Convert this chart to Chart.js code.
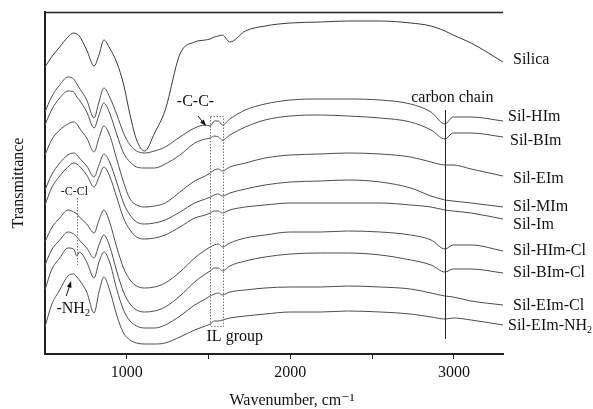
<!DOCTYPE html>
<html>
<head>
<meta charset="utf-8">
<script src="https://cdn.jsdelivr.net/npm/chart.js@4.4.1/dist/chart.umd.min.js"></script>
<style>
  html, body { margin: 0; padding: 0; background: #fff; }
  canvas { display: block; }
</style>
</head>
<body>
<canvas id="ftir-chart" width="593" height="409"></canvas>
<script>
// FTIR spectra of silica and the supported ionic liquids (stacked, arbitrary units)

// Wavenumber grid, cm-1
const wavenumbers = [500, 540, 590, 640, 675, 695, 710, 755, 800, 830,
    860, 895, 940, 980, 1020, 1060, 1110, 1170, 1235, 1325,
    1415, 1480, 1510, 1535, 1560, 1585, 1630, 1725, 1845, 2000,
    2185, 2350, 2550, 2735, 2860, 2945, 2995, 3105, 3300];

// Transmittance (offset, a.u.) for each sample
const silica = [287, 297, 307, 317, 321, 320, 318, 304, 288, 299,
    314, 306, 291, 270, 239, 214, 203, 221, 244, 300,
    312, 314, 315, 317, 318, 319, 312, 323, 328, 331,
    332, 333, 333, 331, 328, 323, 319, 311, 292];
const silHIm = [242, 257, 269, 277, 275, 270, 266, 254, 236, 252,
    266, 257, 239, 221, 209, 203, 201, 203, 207, 217,
    226, 229, 228, 233, 233, 229, 235, 244, 250, 254,
    255, 255, 254, 250, 242, 230, 237, 237, 233];
const silBIm = [229, 244, 256, 263, 262, 257, 254, 242, 226, 239,
    251, 241, 219, 201, 192, 187, 186, 186, 190, 199,
    211, 215, 216, 218, 217, 214, 219, 227, 234, 238,
    239, 238, 236, 232, 224, 215, 221, 221, 217];
const silEIm = [199, 214, 224, 230, 232, 230, 226, 216, 202, 216,
    228, 219, 194, 172, 155, 149, 147, 148, 151, 162,
    173, 178, 181, 184, 185, 183, 187, 191, 196, 199,
    200, 201, 200, 197, 192, 189, 189, 185, 178];
const silMIm = [164, 179, 191, 199, 201, 199, 196, 188, 177, 189,
    200, 192, 171, 151, 139, 132, 130, 131, 134, 142,
    151, 155, 157, 159, 160, 158, 161, 165, 169, 172,
    173, 174, 172, 166, 158, 154, 153, 151, 147];
const silIm = [149, 166, 178, 187, 191, 190, 188, 179, 167, 177,
    187, 178, 156, 136, 124, 117, 115, 116, 119, 127,
    136, 139, 141, 143, 143, 141, 144, 147, 149, 151,
    151, 151, 151, 149, 147, 144, 143, 141, 135];
const silHImCl = [112, 126, 136, 144, 142, 140, 137, 130, 121, 134,
    144, 132, 106, 86, 74, 68, 66, 67, 71, 82,
    96, 104, 107, 109, 110, 107, 111, 116, 119, 122,
    122, 123, 122, 119, 114, 105, 109, 109, 103];
const silBImCl = [89, 104, 114, 122, 120, 117, 114, 106, 96, 109,
    119, 108, 82, 62, 50, 44, 42, 43, 47, 58,
    72, 80, 83, 86, 86, 83, 88, 93, 97, 100,
    101, 101, 99, 94, 89, 82, 85, 85, 81];
const silEImCl = [64, 84, 96, 106, 105, 98, 102, 92, 76, 92,
    102, 92, 64, 44, 33, 28, 26, 26, 29, 38,
    49, 55, 58, 60, 61, 59, 62, 64, 66, 67,
    67, 68, 67, 65, 61, 58, 57, 53, 49];
const silEImNH2 = [27, 49, 64, 78, 80, 77, 74, 62, 41, 62,
    77, 64, 38, 21, 14, 11, 10, 10, 11, 17,
    24, 28, 30, 33, 33, 34, 36, 38, 40, 42,
    42, 43, 42, 40, 37, 35, 36, 34, 29];

const seriesNames = ['Silica', 'Sil-HIm', 'Sil-BIm', 'Sil-EIm', 'Sil-MIm', 'Sil-Im',
    'Sil-HIm-Cl', 'Sil-BIm-Cl', 'Sil-EIm-Cl', 'Sil-EIm-NH2'];
const seriesValues = [silica, silHIm, silBIm, silEIm, silMIm, silIm,
    silHImCl, silBImCl, silEImCl, silEImNH2];

// Axis ticks
const tickValues = [1000, 1500, 2000, 2500, 3000];
const tickLabels = ['1000', '', '2000', '', '3000'];

// Small nudges (px) for the right-hand labels
const labelNudgeX = [10, 5, 7, 10, 10, 10, 10, 10, 10, 5];
const labelNudgeY = [-2, -4, 4, 3, 0, 6, 0, 0, 1, 1];

const SERIF = '"Liberation Serif", "DejaVu Serif", serif';

/**
 * Draw text, turning a trailing "NH2" into NH with a subscript 2
 */
function drawChemText(ctx, text, x, y, size) {
    ctx.font = `${size}px ${SERIF}`;
    if (!text.endsWith('NH2')) {
        ctx.fillText(text, x, y);
        return;
    }
    const main = text.slice(0, -1);
    ctx.fillText(main, x, y);
    const w = ctx.measureText(main).width;
    ctx.font = `${Math.round(size * 0.62)}px ${SERIF}`;
    ctx.fillText('2', x + w, y + size * 0.28);
    ctx.font = `${size}px ${SERIF}`;
}

/**
 * Draw an arrow with a filled head
 */
function drawArrow(ctx, x1, y1, x2, y2) {
    const angle = Math.atan2(y2 - y1, x2 - x1);
    const head = 7;
    ctx.beginPath();
    ctx.moveTo(x1, y1);
    ctx.lineTo(x2 - Math.cos(angle) * head * 0.8, y2 - Math.sin(angle) * head * 0.8);
    ctx.stroke();
    ctx.beginPath();
    ctx.moveTo(x2, y2);
    ctx.lineTo(x2 - head * Math.cos(angle - 0.35), y2 - head * Math.sin(angle - 0.35));
    ctx.lineTo(x2 - head * Math.cos(angle + 0.35), y2 - head * Math.sin(angle + 0.35));
    ctx.closePath();
    ctx.fill();
}

// Frame top line, sample labels and band annotations
const annotationsPlugin = {
    id: 'annotations',
    afterDatasetsDraw(chart) {
        const { ctx, chartArea } = chart;
        const x = chart.scales.x;
        const y = chart.scales.y;

        ctx.save();
        ctx.strokeStyle = '#222';
        ctx.fillStyle = '#111';

        // top frame line
        ctx.lineWidth = 1.5;
        ctx.beginPath();
        ctx.moveTo(chartArea.left, chartArea.top + 0.5);
        ctx.lineTo(chartArea.right, chartArea.top + 0.5);
        ctx.stroke();

        // sample labels at the right end of each trace
        ctx.textAlign = 'left';
        ctx.textBaseline = 'middle';
        seriesNames.forEach((name, i) => {
            const last = seriesValues[i][seriesValues[i].length - 1];
            drawChemText(ctx, name, chartArea.right + labelNudgeX[i],
                y.getPixelForValue(last) + labelNudgeY[i], 16);
        });

        // carbon chain marker
        ctx.lineWidth = 1;
        const cx = Math.round(x.getPixelForValue(2945)) + 0.5;
        ctx.beginPath();
        ctx.moveTo(cx, y.getPixelForValue(244));
        ctx.lineTo(cx, y.getPixelForValue(15));
        ctx.stroke();
        ctx.textAlign = 'center';
        ctx.font = `16px ${SERIF}`;
        ctx.fillText('carbon chain', x.getPixelForValue(2990), y.getPixelForValue(256));

        // IL group dotted box
        ctx.strokeStyle = '#777';
        ctx.setLineDash([1.5, 1.5]);
        const bx1 = Math.round(x.getPixelForValue(1510)) + 0.5;
        const bx2 = Math.round(x.getPixelForValue(1590)) + 0.5;
        const by1 = Math.round(y.getPixelForValue(238)) + 0.5;
        const by2 = Math.round(y.getPixelForValue(28)) + 0.5;
        ctx.strokeRect(bx1, by1, bx2 - bx1, by2 - by1);

        // -C-Cl dotted guide
        const clx = Math.round(x.getPixelForValue(695)) + 0.5;
        ctx.beginPath();
        ctx.moveTo(clx, y.getPixelForValue(156));
        ctx.lineTo(clx, y.getPixelForValue(89));
        ctx.stroke();
        ctx.setLineDash([]);

        ctx.fillText('IL group', x.getPixelForValue(1660), y.getPixelForValue(17));
        ctx.fillText('-C-C-', x.getPixelForValue(1420), y.getPixelForValue(252));

        ctx.font = `12px ${SERIF}`;
        ctx.fillText('-C-Cl', x.getPixelForValue(680), y.getPixelForValue(162));

        ctx.textAlign = 'left';
        drawChemText(ctx, '-NH2', x.getPixelForValue(570), y.getPixelForValue(45), 16);

        // arrows
        ctx.strokeStyle = '#111';
        ctx.lineWidth = 1;
        drawArrow(ctx, x.getPixelForValue(1435), y.getPixelForValue(238),
            x.getPixelForValue(1485), y.getPixelForValue(228));
        drawArrow(ctx, x.getPixelForValue(630), y.getPixelForValue(58),
            x.getPixelForValue(660), y.getPixelForValue(73));

        ctx.restore();
    }
};

const datasets = seriesValues.map((values, i) => ({
    label: seriesNames[i],
    data: values.map((v, j) => ({ x: wavenumbers[j], y: v })),
    borderColor: i === 0 ? '#3a3a3a' : '#4d4d4d',
    borderWidth: 1,
    pointRadius: 0,
    fill: false,
    cubicInterpolationMode: 'monotone'
}));

new Chart(document.getElementById('ftir-chart').getContext('2d'), {
    type: 'line',
    data: { datasets: datasets },
    options: {
        responsive: false,
        animation: false,
        devicePixelRatio: 1,
        layout: { padding: { top: 12, right: 90, left: 0, bottom: 0 } },
        plugins: {
            legend: { display: false },
            tooltip: { enabled: false }
        },
        scales: {
            x: {
                type: 'linear',
                min: 500,
                max: 3300,
                afterBuildTicks: (scale) => {
                    scale.ticks = tickValues.map(v => ({ value: v }));
                },
                afterFit: (scale) => { scale.height = 55; },
                ticks: {
                    autoSkip: false,
                    maxRotation: 0,
                    padding: 4,
                    color: '#111',
                    font: { family: SERIF, size: 16 },
                    callback: (value) => tickLabels[tickValues.indexOf(value)]
                },
                grid: {
                    drawOnChartArea: false,
                    drawTicks: true,
                    tickLength: 5,
                    color: '#222'
                },
                border: { display: true, color: '#222', width: 2 },
                title: {
                    display: true,
                    text: '\u2003\u2003 Wavenumber, cm\u207B\u00B9',
                    color: '#111',
                    font: { family: SERIF, size: 16, lineHeight: 1 },
                    padding: 0
                }
            },
            y: {
                type: 'linear',
                min: 0,
                max: 342,
                afterFit: (scale) => { scale.width = 45; },
                ticks: { display: false },
                grid: { display: false },
                border: { display: true, color: '#222', width: 2 },
                title: {
                    display: true,
                    text: 'Transmittance',
                    color: '#111',
                    font: { family: SERIF, size: 16, lineHeight: 1 },
                    padding: { top: 11, bottom: 0 }
                }
            }
        }
    },
    plugins: [annotationsPlugin]
});
</script>
</body>
</html>
